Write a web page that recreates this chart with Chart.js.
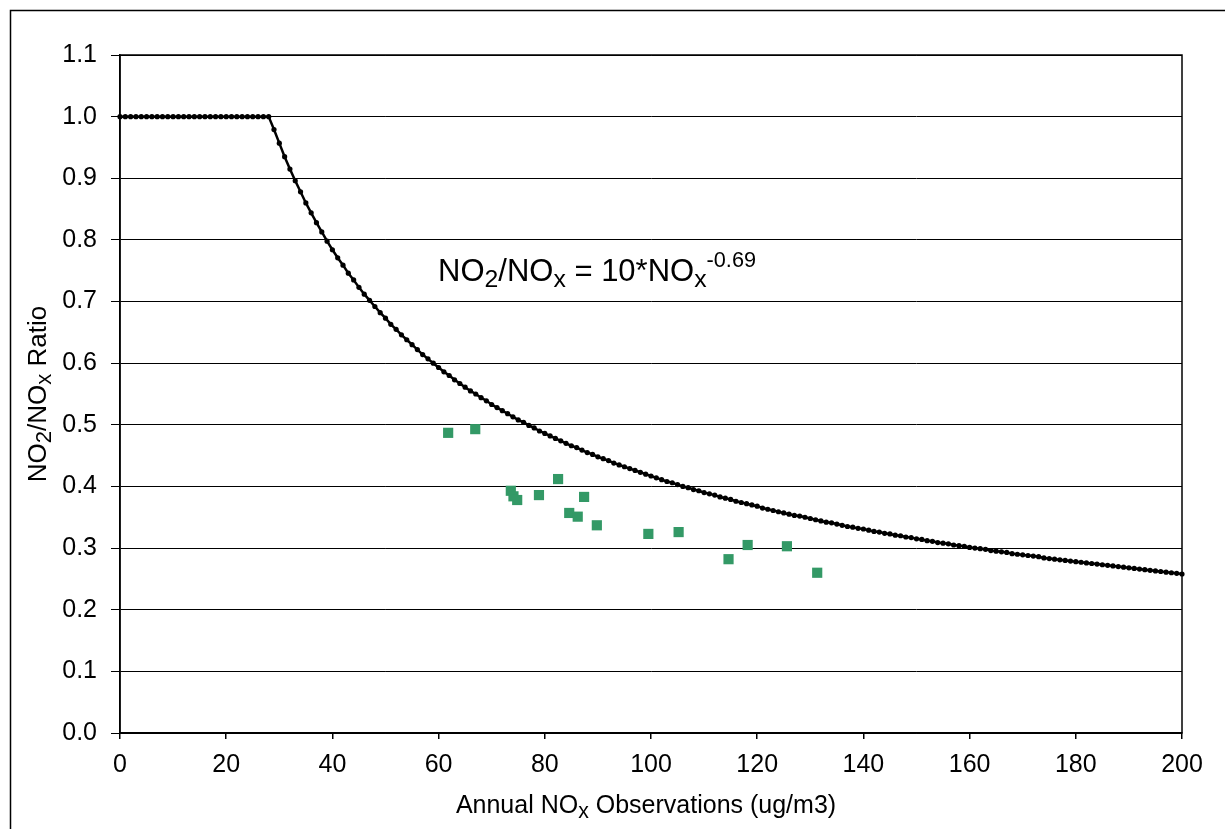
<!DOCTYPE html>
<html>
<head>
<meta charset="utf-8">
<script src="https://cdn.jsdelivr.net/npm/chart.js@4.4.0/dist/chart.umd.min.js"></script>
<style>
  body { margin: 0; background: #fff; }
  #wrap { width: 1225px; height: 829px; }
</style>
</head>
<body>
<div id="wrap"><canvas id="ratioChart" width="1225" height="829"></canvas></div>
<script>
// fitted curve NO2/NOx = 10*NOx^-0.69 (capped at 1), one value per ug/m3 from 0 to 200
const curveRatio = [
  1.000, 1.000, 1.000, 1.000, 1.000, 1.000, 1.000, 1.000, 1.000, 1.000,
  1.000, 1.000, 1.000, 1.000, 1.000, 1.000, 1.000, 1.000, 1.000, 1.000,
  1.000, 1.000, 1.000, 1.000, 1.000, 1.000, 1.000, 1.000, 1.000, 0.979,
  0.957, 0.935, 0.915, 0.896, 0.878, 0.860, 0.844, 0.828, 0.813, 0.798,
  0.784, 0.771, 0.759, 0.746, 0.735, 0.723, 0.712, 0.702, 0.692, 0.682,
  0.673, 0.663, 0.655, 0.646, 0.638, 0.630, 0.622, 0.614, 0.607, 0.600,
  0.593, 0.586, 0.580, 0.573, 0.567, 0.561, 0.555, 0.550, 0.544, 0.539,
  0.533, 0.528, 0.523, 0.518, 0.513, 0.508, 0.504, 0.499, 0.495, 0.490,
  0.486, 0.482, 0.478, 0.474, 0.470, 0.466, 0.463, 0.459, 0.455, 0.452,
  0.448, 0.445, 0.442, 0.438, 0.435, 0.432, 0.429, 0.426, 0.423, 0.420,
  0.417, 0.414, 0.411, 0.408, 0.406, 0.403, 0.400, 0.398, 0.395, 0.393,
  0.390, 0.388, 0.386, 0.383, 0.381, 0.379, 0.376, 0.374, 0.372, 0.370,
  0.368, 0.365, 0.363, 0.361, 0.359, 0.357, 0.355, 0.353, 0.352, 0.350,
  0.348, 0.346, 0.344, 0.342, 0.341, 0.339, 0.337, 0.335, 0.334, 0.332,
  0.331, 0.329, 0.327, 0.326, 0.324, 0.323, 0.321, 0.320, 0.318, 0.317,
  0.315, 0.314, 0.312, 0.311, 0.309, 0.308, 0.307, 0.305, 0.304, 0.303,
  0.301, 0.300, 0.299, 0.298, 0.296, 0.295, 0.294, 0.293, 0.291, 0.290,
  0.289, 0.288, 0.287, 0.286, 0.284, 0.283, 0.282, 0.281, 0.280, 0.279,
  0.278, 0.277, 0.276, 0.275, 0.274, 0.273, 0.272, 0.271, 0.270, 0.269,
  0.268, 0.267, 0.266, 0.265, 0.264, 0.263, 0.262, 0.261, 0.260, 0.259,
  0.258
];

// monitoring sites
const obsNOx   = [61.8, 66.9, 73.6, 74.1, 74.8, 78.9, 82.5, 84.6, 86.2, 87.4, 89.8, 99.5, 105.2, 114.6, 118.2, 125.6, 131.3];
const obsRatio = [0.487, 0.493, 0.393, 0.384, 0.378, 0.386, 0.412, 0.357, 0.351, 0.383, 0.337, 0.323, 0.326, 0.282, 0.305, 0.303, 0.260];

const xMin = 0, xMax = 200, xStep = 20;
const yMin = 0, yMax = 1.1, yStep = 0.1;

const FONT = '"Liberation Sans", Arial, sans-serif';

// text with sub/superscripts, drawn on the canvas
function drawRich(ctx, parts, x, y, size, align, subScale, supScale) {
  let total = 0;
  parts.forEach((p) => {
    p.size = p.k === 'sub' ? size * subScale : p.k === 'sup' ? size * supScale : size;
    ctx.font = p.size + 'px ' + FONT;
    p.w = ctx.measureText(p.t).width;
    total += p.w;
  });
  let cx = align === 'center' ? x - total / 2 : x;
  parts.forEach((p) => {
    ctx.font = p.size + 'px ' + FONT;
    let dy = 0;
    if (p.k === 'sub') dy = size * 0.2;
    if (p.k === 'sup') dy = -size * 0.44;
    ctx.fillText(p.t, cx, y + dy);
    cx += p.w;
  });
}

const framePlugin = {
  id: 'frame',
  beforeDraw(chart) {
    const ctx = chart.ctx;
    ctx.save();
    ctx.fillStyle = '#fff';
    ctx.fillRect(0, 0, chart.width, chart.height);
    ctx.strokeStyle = '#000';
    ctx.lineWidth = 1.5;
    ctx.beginPath();
    ctx.moveTo(10.5, chart.height);
    ctx.lineTo(10.5, 10.5);
    ctx.lineTo(chart.width, 10.5);
    ctx.stroke();
    ctx.restore();
  },
  afterDraw(chart) {
    const ctx = chart.ctx;
    const a = chart.chartArea;
    ctx.save();
    ctx.strokeStyle = '#000';
    ctx.lineWidth = 1.5;
    ctx.strokeRect(a.left, a.top, a.right - a.left, a.bottom - a.top);

    ctx.fillStyle = '#000';
    ctx.textBaseline = 'alphabetic';
    // equation label
    drawRich(ctx, [
      { t: 'NO' }, { t: '2', k: 'sub' }, { t: '/NO' }, { t: 'x', k: 'sub' },
      { t: ' = 10*NO' }, { t: 'x', k: 'sub' }, { t: '-0.69', k: 'sup' }
    ], 438, 281, 31, 'left', 0.8, 0.7);

    // x axis title
    drawRich(ctx, [
      { t: 'Annual NO' }, { t: 'x', k: 'sub' }, { t: ' Observations (ug/m3)' }
    ], (a.left + a.right) / 2 - 5, 813, 25, 'center', 0.85, 0.7);

    // y axis title
    ctx.translate(46, (a.top + a.bottom) / 2);
    ctx.rotate(-Math.PI / 2);
    drawRich(ctx, [
      { t: 'NO' }, { t: '2', k: 'sub' }, { t: '/NO' }, { t: 'x', k: 'sub' }, { t: ' Ratio' }
    ], 0, 0, 26, 'center', 0.85, 0.7);
    ctx.restore();
  }
};

const curvePoints = curveRatio.map((v, i) => ({ x: xMin + i, y: v }));
const obsPoints = obsNOx.map((v, i) => ({ x: v, y: obsRatio[i] }));

new Chart(document.getElementById('ratioChart'), {
  type: 'scatter',
  data: {
    datasets: [{
      label: 'Observations',
      data: obsPoints,
      pointStyle: 'rect',
      pointRadius: 7.2,
      pointHoverRadius: 7.2,
      backgroundColor: '#339966',
      borderColor: '#339966',
      borderWidth: 0
    }, {
      label: 'Fitted curve',
      data: curvePoints,
      showLine: true,
      borderColor: '#000',
      borderWidth: 2.5,
      pointRadius: 2.6,
      pointBackgroundColor: '#000',
      pointBorderWidth: 0,
      tension: 0,
      clip: false
    }]
  },
  options: {
    responsive: false,
    animation: false,
    layout: { padding: { top: 55, right: 43, left: 0, bottom: 0 } },
    plugins: {
      legend: { display: false },
      tooltip: { enabled: false }
    },
    scales: {
      x: {
        type: 'linear',
        min: xMin,
        max: xMax,
        afterFit: (scale) => { scale.height = 96; },
        ticks: { stepSize: xStep, color: '#000', font: { family: FONT, size: 25 }, padding: 11 },
        grid: { drawOnChartArea: false, drawTicks: true, tickLength: 6, color: '#000', lineWidth: 1.5 },
        border: { display: true, color: '#000', width: 1.5 }
      },
      y: {
        min: yMin,
        max: yMax,
        afterFit: (scale) => { scale.width = 120; },
        ticks: {
          stepSize: yStep,
          color: '#000',
          font: { family: FONT, size: 25 },
          padding: 14,
          callback: (v) => Number(v).toFixed(1)
        },
        grid: { color: '#000', lineWidth: 1, tickLength: 9, drawTicks: true },
        border: { display: true, color: '#000', width: 1.5 }
      }
    }
  },
  plugins: [framePlugin]
});
</script>
</body>
</html>
